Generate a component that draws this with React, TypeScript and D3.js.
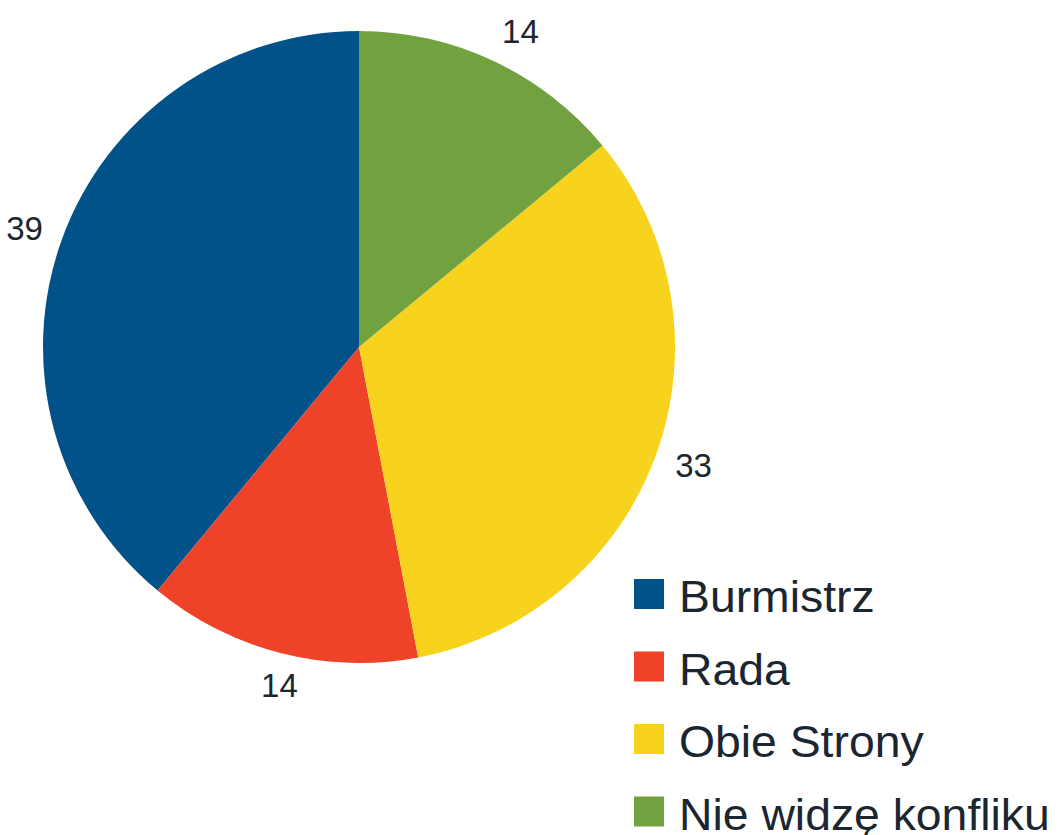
import { useMemo } from 'react';
import * as d3 from 'd3';

const categories = ['Burmistrz', 'Rada', 'Obie Strony', 'Nie widzę konfliku'];
const values = [39, 14, 33, 14];
const colours = ['#02528a', '#ee4329', '#f7d31e', '#72a23f'];

const width = 1061;
const height = 835;
const cx = 359;
const cy = 347;
const radius = 316;
const labelRadius = radius + 20;
const labelFont = 33;
const legendFont = 45;

interface Slice {
    anchor: 'start' | 'middle' | 'end';
    d: string;
    fill: string;
    label: string;
    lx: number;
    ly: number;
}

export default function App() {
    const slices = useMemo<Slice[]>(() => {
        const pie = d3
            .pie<number>()
            .sort(null)
            .startAngle(0)
            .endAngle(-2 * Math.PI);
        const arc = d3.arc<d3.PieArcDatum<number>>().innerRadius(0).outerRadius(radius);
        return pie(values).map((p, i) => {
            const mid = (p.startAngle + p.endAngle) / 2;
            const s = Math.sin(mid);
            const c = Math.cos(mid);
            const anchor = s > 0.3 ? 'start' : s < -0.3 ? 'end' : 'middle';
            // anchor just outside the rim, nudged vertically by half the text box
            const lx = labelRadius * s + (anchor === 'middle' ? 4 : 0);
            const ly = -labelRadius * c - c * 13;
            return {
                anchor,
                d: arc(p)!,
                fill: colours[i],
                label: String(values[i]),
                lx,
                ly,
            };
        });
    }, []);

    const legendY = d3
        .scaleBand<string>()
        .domain(categories)
        .range([579, 869])
        .paddingInner(0);

    return (
        <svg
            width={width}
            height={height}
            viewBox={`0 0 ${width} ${height}`}
            style={{ position: 'absolute', left: 0, top: 0, background: '#fff' }}
            fontFamily="'Liberation Sans', Arial, sans-serif"
        >
            <g transform={`translate(${cx}, ${cy})`}>
                {slices.map((s, i) => (
                    <path key={i} d={s.d} fill={s.fill} />
                ))}
                {slices.map((s, i) => (
                    <text
                        key={i}
                        x={s.lx}
                        y={s.ly}
                        textAnchor={s.anchor}
                        dominantBaseline="central"
                        fontSize={labelFont}
                        fill="#1b2631"
                    >
                        {s.label}
                    </text>
                ))}
            </g>
            <g>
                {categories.map((c, i) => {
                    const y = legendY(c)!;
                    return (
                        <g key={c}>
                            <rect x={634} y={y} width={30} height={30} fill={colours[i]} />
                            <text
                                transform={`translate(679, ${y + 33}) scale(1.03, 1)`}
                                fontSize={legendFont}
                                fill="#1b2631"
                            >
                                {c}
                            </text>
                        </g>
                    );
                })}
            </g>
        </svg>
    );
}
